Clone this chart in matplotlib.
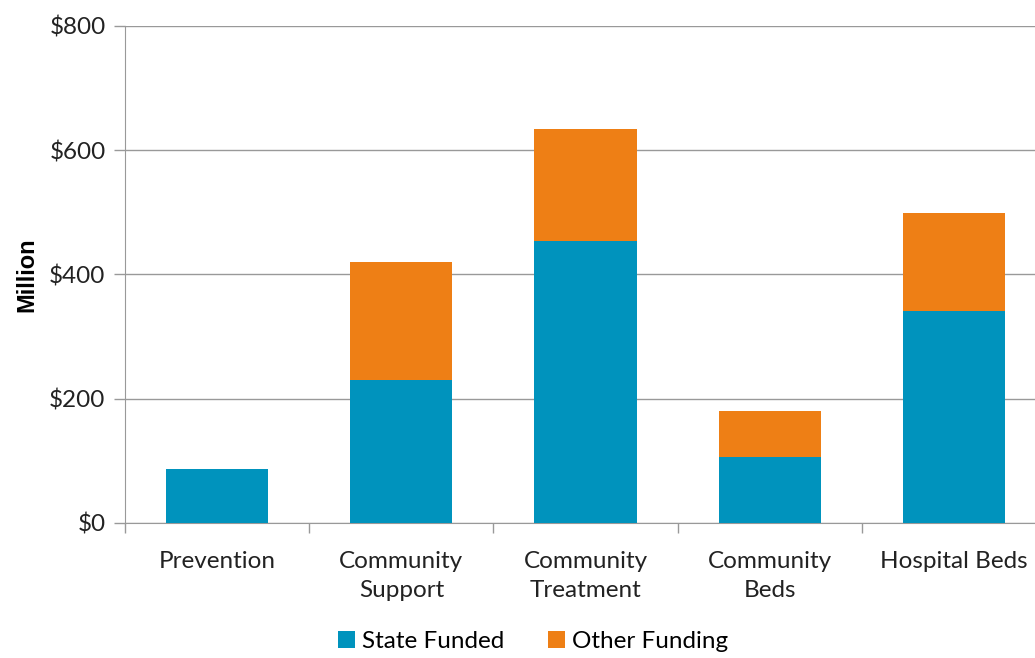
import matplotlib.pyplot as plt
import numpy as np

categories = ['Prevention', 'Community\nSupport', 'Community\nTreatment', 'Community\nBeds', 'Hospital Beds']
state_funded = [87, 230, 454, 106, 341]
other_funding = [0, 190, 180, 74, 158]
yticks = [0, 200, 400, 600, 800]
ytick_labels = ['$0', '$200', '$400', '$600', '$800']

plt.rcParams['font.family'] = ['Lato', 'DejaVu Sans']

fig = plt.figure(figsize=(10.35, 6.58), dpi=100)
ax = fig.add_axes([0.1208, 0.2052, 0.89, 0.7553])

x = np.arange(len(categories))
ax.bar(x, state_funded, width=0.555, color='#0093BD', label='State Funded', zorder=3)
ax.bar(x, other_funding, width=0.555, bottom=state_funded, color='#EE7F15', label='Other Funding', zorder=3)

ax.set_xlim(-0.5, len(categories) - 0.5)
ax.set_ylim(0, 800)
ax.set_yticks(yticks)
ax.set_yticklabels(ytick_labels, fontsize=17.5, color='#222222')
ax.set_xticks(x)
ax.set_xticklabels(categories, fontsize=17.5, color='#222222', linespacing=1.5)
ax.set_xticks(np.arange(-0.5, len(categories)), minor=True)
ax.tick_params(axis='x', which='major', length=0, pad=20)
ax.tick_params(axis='x', which='minor', length=7, color='#999999', width=1)
ax.tick_params(axis='y', length=8, color='#999999', width=1, pad=6)
ax.grid(axis='y', color='#999999', linewidth=1, zorder=0)

for side in ['top', 'right']:
    ax.spines[side].set_visible(False)
for side in ['left', 'bottom']:
    ax.spines[side].set_color('#999999')

ax.set_ylabel('Million', fontsize=17, fontweight='bold', family='Liberation Sans', labelpad=8)

leg = fig.legend(loc='center', bbox_to_anchor=(0.515, 0.025), ncol=2, frameon=False,
                 fontsize=17.5, handlelength=0.7, handleheight=0.7, handletextpad=0.3,
                 columnspacing=1.8)

fig.savefig('out.png', dpi=100)
